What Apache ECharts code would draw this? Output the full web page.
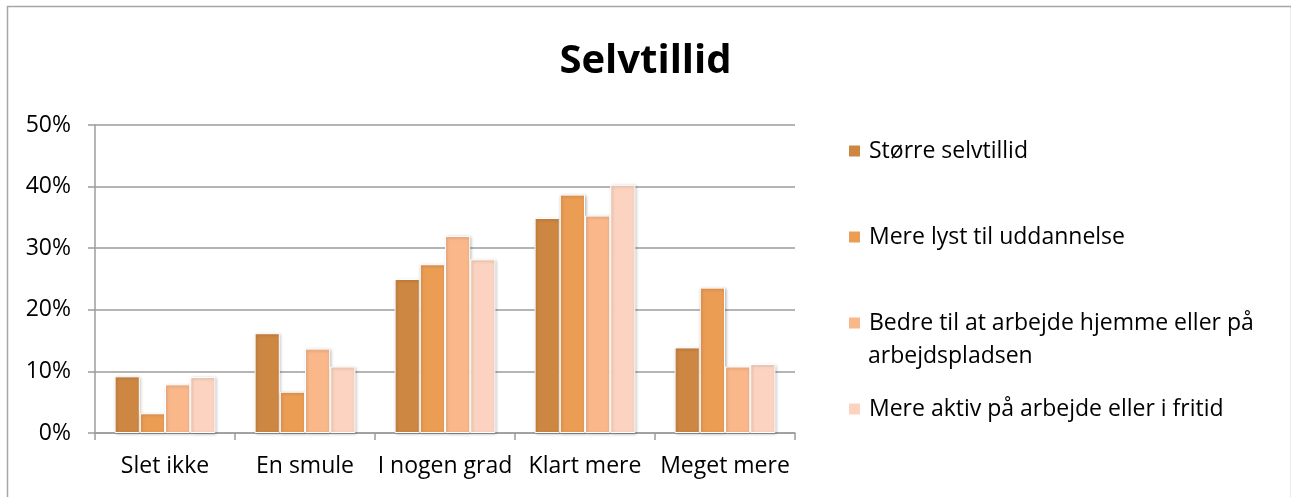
<!DOCTYPE html>
<html>
<head>
<meta charset="utf-8">
<script src="https://cdn.jsdelivr.net/npm/echarts@6/dist/echarts.min.js"></script>
<style>
html,body{margin:0;padding:0;background:#fff;}
#chart{width:1291px;height:497px;}
</style>
</head>
<body>
<div id="chart"></div>
<script>
const categories = ['Slet ikke', 'En smule', 'I nogen grad', 'Klart mere', 'Meget mere'];
const seriesNames = ['Større selvtillid', 'Mere lyst til uddannelse', 'Bedre til at arbejde hjemme eller på arbejdspladsen', 'Mere aktiv på arbejde eller i fritid'];
const storreSelvtillid = [9.2, 16.2, 25.0, 34.9, 13.9];
const merelystUddannelse = [3.2, 6.7, 27.4, 38.7, 23.6];
const bedreArbejde = [7.9, 13.7, 32.0, 35.3, 10.8];
const mereAktiv = [9.1, 10.8, 28.2, 40.3, 11.2];
const yTicks = [0, 10, 20, 30, 40, 50];

const colors = ['#CD8742', '#EB9D54', '#F9B78A', '#FCD3C0'];
const values = [storreSelvtillid, merelystUddannelse, bedreArbejde, mereAktiv];
const FONT = '"Open Sans", "Noto Sans", sans-serif';
const FS = 23;

const legendCenters = [151, 237, 323, 409];
const legends = seriesNames.map((n, i) => ({
  data: [n],
  orient: 'vertical',
  left: 847,
  top: legendCenters[i] - 13,
  padding: 0,
  itemWidth: 13,
  itemHeight: 13,
  icon: 'rect',
  selectedMode: false,
  formatter: (name) => name === seriesNames[2] ? 'Bedre til at arbejde hjemme eller på' : name,
  textStyle: { fontFamily: FONT, fontSize: FS, color: '#000', lineHeight: 26, padding: [0, 0, 0, 3] }
}));

const chart = echarts.init(document.getElementById('chart'), null, { renderer: 'canvas' });
chart.setOption({
  animation: false,
  backgroundColor: '#fff',
  title: {
    text: 'Selvtillid',
    left: 'center',
    top: 37,
    textStyle: { fontFamily: FONT, fontSize: 40, fontWeight: 'bold', color: '#000' }
  },
  legend: legends,
  graphic: [
    { type: 'rect', left: 5, top: 4, shape: { width: 1284, height: 500 }, style: { fill: 'none', stroke: '#A6A6A6', lineWidth: 1.5 }, z: -1 },
    { type: 'text', x: 868, y: 356, style: { text: 'arbejdspladsen', fontFamily: FONT, fontSize: FS, fill: '#000', verticalAlign: 'middle', align: 'left' } }
  ],
  grid: { left: 95, right: 496, top: 125, bottom: 64, containLabel: false },
  xAxis: {
    type: 'category',
    data: categories,
    axisLine: { lineStyle: { color: '#9C9C9C', width: 1.5 } },
    axisTick: { show: true, length: 7, inside: false, lineStyle: { color: '#9C9C9C', width: 1.5 } },
    axisLabel: { fontFamily: FONT, fontSize: FS, color: '#000', margin: 22, interval: 0 }
  },
  yAxis: {
    type: 'value',
    min: 0,
    max: 50,
    interval: 10,
    axisLine: { show: true, lineStyle: { color: '#9C9C9C', width: 1.5 } },
    axisTick: { show: true, length: 7, lineStyle: { color: '#9C9C9C', width: 1.5 } },
    axisLabel: { fontFamily: FONT, fontSize: FS, color: '#000', margin: 24, formatter: v => yTicks.includes(v) ? v + '%' : '' },
    splitLine: { show: true, lineStyle: { color: '#9C9C9C', width: 1.5 } }
  },
  series: seriesNames.map((n, i) => ({
    name: n,
    type: 'bar',
    data: values[i],
    barGap: '0%',
    barCategoryGap: '28%',
    itemStyle: {
      color: colors[i],
      borderColor: '#fff',
      borderWidth: 1,
      shadowColor: 'rgba(0,0,0,0.25)',
      shadowBlur: 3,
      shadowOffsetX: 1,
      shadowOffsetY: 1
    }
  }))
});
</script>
</body>
</html>
